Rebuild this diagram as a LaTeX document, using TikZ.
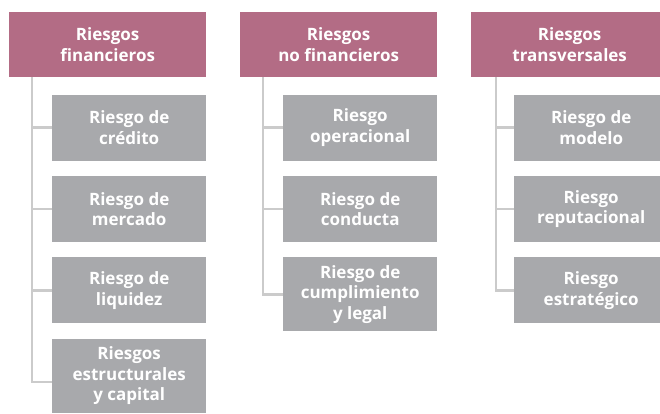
\documentclass[tikz,border=0pt]{standalone}
\usepackage{fontspec}
\setmainfont{Open Sans}
\usetikzlibrary{positioning}
\definecolor{rosa}{HTML}{B36C85}
\definecolor{gris}{HTML}{A8A9AC}
\definecolor{linea}{HTML}{CBCBCB}
\begin{document}
\begin{tikzpicture}[x=1pt,y=-1pt,
    hd/.style={fill=rosa,text=white,minimum width=197pt,minimum height=65pt,align=center,inner sep=0pt,font=\fontsize{17}{20.5}\selectfont\bfseries},
    rk/.style={fill=gris,text=white,minimum width=154pt,minimum height=66pt,inner xsep=0pt,inner ysep=8pt,align=center,font=\fontsize{17}{20.5}\selectfont\bfseries},
    ln/.style={draw=linea,line width=2.4pt}]
    \clip (0,0) rectangle (660,414);
    \fill[white] (0,0) rectangle (660,414);
    % columnas
    \node[hd,anchor=north west] (h1) at (9,12) {Riesgos\\financieros};
    \node[hd,anchor=north west] (h2) at (240,12) {Riesgos\\no financieros};
    \node[hd,anchor=north west] (h3) at (471,12) {Riesgos\\transversales};
    % riesgos financieros
    \node[rk,below left=17pt and 0pt of h1.south east] (c11) {Riesgo de\\crédito};
    \node[rk,below=15pt of c11] (c12) {Riesgo de\\mercado};
    \node[rk,below=15pt of c12] (c13) {Riesgo de\\liquidez};
    \node[rk,below=15pt of c13] (c14) {Riesgos\\estructurales\\y capital};
    % riesgos no financieros
    \node[rk,below left=17pt and 0pt of h2.south east] (c21) {Riesgo\\operacional};
    \node[rk,below=15pt of c21] (c22) {Riesgo de\\conducta};
    \node[rk,below=15pt of c22] (c23) {Riesgo de\\cumplimiento\\y legal};
    % riesgos transversales
    \node[rk,below left=17pt and 0pt of h3.south east] (c31) {Riesgo de\\modelo};
    \node[rk,below=15pt of c31] (c32) {Riesgo\\reputacional};
    \node[rk,below=15pt of c32] (c33) {Riesgo\\estratégico};
    % lineas
    \coordinate (t1) at ([xshift=23pt]h1.south west);
    \coordinate (t2) at ([xshift=23pt]h2.south west);
    \coordinate (t3) at ([xshift=25pt]h3.south west);
    \draw[ln] (t1) |- ([yshift=-6pt]c14.west);
    \foreach \i in {1,2,3} \draw[ln] (t1 |- c1\i.west) -- (c1\i.west);
    \draw[ln] (t2) |- (c23.west);
    \foreach \i in {1,2} \draw[ln] (t2 |- c2\i.west) -- (c2\i.west);
    \draw[ln] (t3) |- (c33.west);
    \foreach \i in {1,2} \draw[ln] (t3 |- c3\i.west) -- (c3\i.west);
\end{tikzpicture}
\end{document}
